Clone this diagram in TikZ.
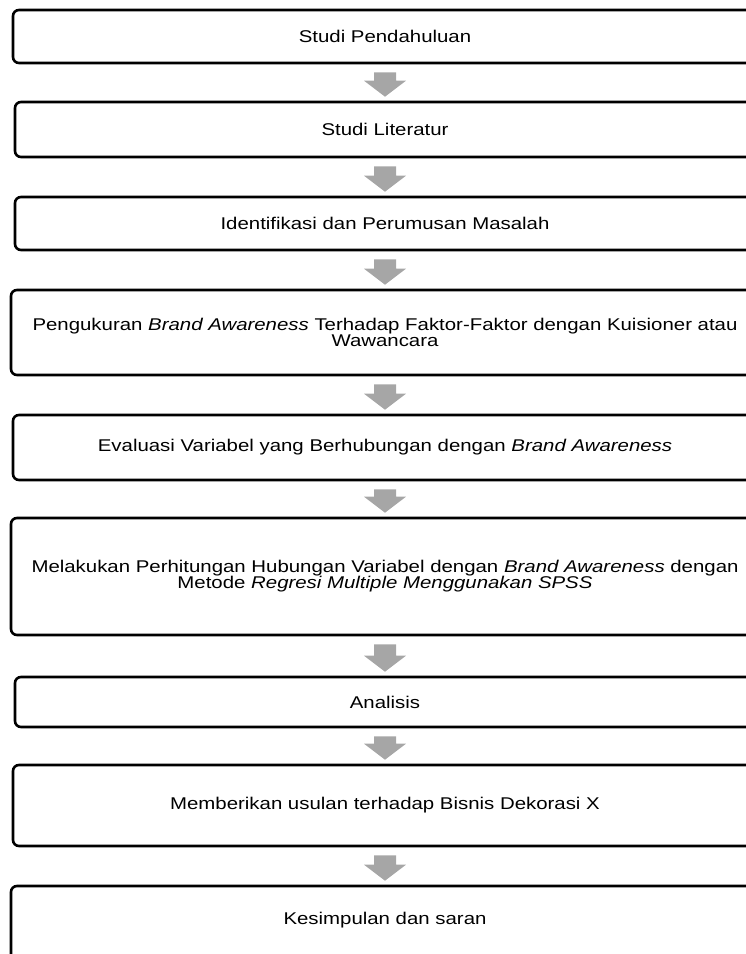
\documentclass[tikz,border=0pt]{standalone}
\usepackage{fontspec}
\setmainfont{Liberation Sans}[FakeStretch=1.2]
\usetikzlibrary{calc}
\definecolor{arrowgray}{RGB}{166,166,166}
\tikzset{
  stepbox/.style={draw=black, line width=2.6pt, rounded corners=6pt, align=center,
    font=\fontsize{17}{16}\selectfont, inner sep=0pt},
}
\newcommand\flowarrow[2]{%
  \fill[arrowgray] let \p1=(#1.south), \p2=(#2.north) in
    ({\x1-11pt},{\y1-8pt}) -- ({\x1+11pt},{\y1-8pt}) -- ({\x1+11pt},{\y2+20pt})
    -- ({\x1+21pt},{\y2+20pt}) -- ({\x1},{\y2+4pt}) -- ({\x1-21pt},{\y2+20pt})
    -- ({\x1-11pt},{\y2+20pt}) -- cycle;}
\begin{document}
\begin{tikzpicture}[x=1pt,y=-1pt]
\useasboundingbox (0,0) rectangle (746,954);
\clip (0,0) rectangle (746,954);
\node[stepbox, minimum width=744pt, minimum height=53pt] (s1) at (385,36.5) {Studi Pendahuluan};
\node[stepbox, minimum width=740pt, minimum height=55pt] (s2) at (385,129.5) {Studi Literatur};
\node[stepbox, minimum width=740pt, minimum height=53pt] (s3) at (385,223.5) {Identifikasi dan Perumusan Masalah};
\node[stepbox, minimum width=748pt, minimum height=85pt] (s4) at (385,332.5) {Pengukuran \textit{Brand Awareness} Terhadap Faktor-Faktor dengan Kuisioner atau\\Wawancara};
\node[stepbox, minimum width=744pt, minimum height=65pt] (s5) at (385,447.5) {Evaluasi Variabel yang Berhubungan dengan \textit{Brand Awareness}};
\node[stepbox, minimum width=748pt, minimum height=117pt] (s6) at (385,576.5) {Melakukan Perhitungan Hubungan Variabel dengan \textit{Brand Awareness} dengan\\Metode \textit{Regresi Multiple Menggunakan SPSS}};
\node[stepbox, minimum width=740pt, minimum height=50pt] (s7) at (385,702) {Analisis};
\node[stepbox, minimum width=744pt, minimum height=81pt] (s8) at (385,805.5) {Memberikan usulan terhadap Bisnis Dekorasi X};
\node[stepbox, minimum width=748pt, minimum height=84pt, text height=12pt, text depth=20pt] (s9) at (385,928) {Kesimpulan dan saran};
\flowarrow{s1}{s2}
\flowarrow{s2}{s3}
\flowarrow{s3}{s4}
\flowarrow{s4}{s5}
\flowarrow{s5}{s6}
\flowarrow{s6}{s7}
\flowarrow{s7}{s8}
\flowarrow{s8}{s9}
\end{tikzpicture}
\end{document}
